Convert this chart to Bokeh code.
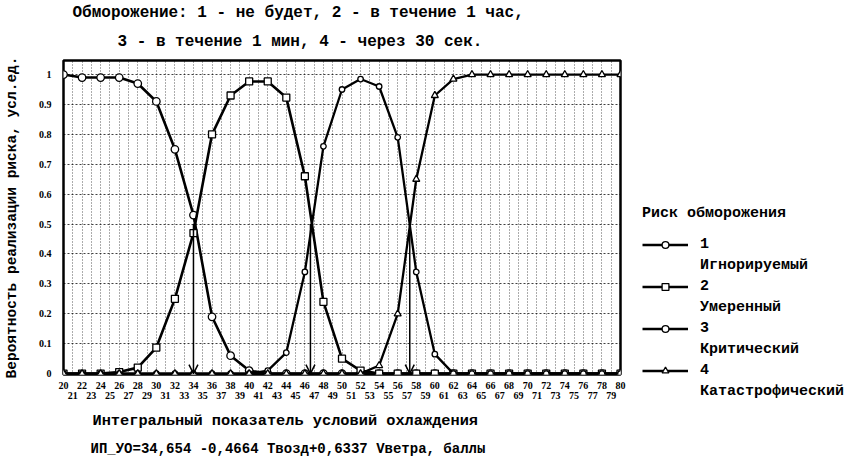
from bokeh.plotting import figure
from bokeh.models import (Range1d, FixedTicker, LinearAxis, Grid, Title, Legend, LegendItem,
                          Arrow, OpenHead, ColumnDataSource, CustomJSTickFormatter)
from bokeh.embed import file_html
from bokeh.resources import INLINE

# ---------------- texts ----------------
title_lines = ["Обморожение: 1 - не будет, 2 - в течение 1 час,",
               "3 - в течение 1 мин, 4 - через 30 сек."]
y_axis_title = "Вероятность реализации риска, усл.ед."
x_axis_title = "Интегральный показатель условий охлаждения"
formula_text = "ИП_УО=34,654 -0,4664 Твозд+0,6337 Vветра, баллы"
legend_title = "Риск обморожения"
series_numbers = ["1", "2", "3", "4"]
series_names = ["Игнорируемый", "Умеренный", "Критический", "Катастрофический"]

# ---------------- data ----------------
x_index = [20, 22, 24, 26, 28, 30, 32, 34, 36, 38, 40, 42, 44, 46, 48, 50,
           52, 54, 56, 58, 60, 62, 64, 66, 68, 70, 72, 74, 76, 78, 80]
risk_1 = [1.0, 0.99, 0.99, 0.99, 0.97, 0.91, 0.75, 0.53, 0.19, 0.06, 0.01, 0.0,
          0.0, 0.0, 0.0, 0.0, 0.0, 0.0, 0.0, 0.0, 0.0, 0.0, 0.0, 0.0, 0.0, 0.0,
          0.0, 0.0, 0.0, 0.0, 0.0]
risk_2 = [0.0, 0.0, 0.0, 0.005, 0.02, 0.087, 0.25, 0.47, 0.80, 0.93, 0.977, 0.977,
          0.923, 0.66, 0.24, 0.05, 0.01, 0.0, 0.0, 0.0, 0.0, 0.0, 0.0, 0.0, 0.0,
          0.0, 0.0, 0.0, 0.0, 0.0, 0.0]
risk_3 = [0.0, 0.0, 0.0, 0.0, 0.0, 0.0, 0.0, 0.0, 0.0, 0.0, 0.0, 0.01, 0.07,
          0.34, 0.76, 0.95, 0.985, 0.96, 0.79, 0.34, 0.065, 0.0, 0.0, 0.0, 0.0,
          0.0, 0.0, 0.0, 0.0, 0.0, 0.0]
risk_4 = [0.0, 0.0, 0.0, 0.0, 0.0, 0.0, 0.0, 0.0, 0.0, 0.0, 0.0, 0.0, 0.0, 0.0,
          0.0, 0.0, 0.0, 0.027, 0.20, 0.65, 0.93, 0.985, 1.0, 1.0, 1.0, 1.0, 1.0,
          1.0, 1.0, 1.0, 1.0]

y_ticks = [0.0, 0.1, 0.2, 0.3, 0.4, 0.5, 0.6, 0.7, 0.8, 0.9, 1.0]
x_ticks_even = [20, 22, 24, 26, 28, 30, 32, 34, 36, 38, 40, 42, 44, 46, 48, 50,
                52, 54, 56, 58, 60, 62, 64, 66, 68, 70, 72, 74, 76, 78, 80]
x_ticks_odd = [21, 23, 25, 27, 29, 31, 33, 35, 37, 39, 41, 43, 45, 47, 49, 51,
               53, 55, 57, 59, 61, 63, 65, 67, 69, 71, 73, 75, 77, 79]

arrow_x = [34.0, 46.6, 57.3]
arrow_top = [0.5, 0.5, 0.5]
arrow_bottom = [0.0, 0.0, 0.0]

MONO = "Liberation Mono"
SERIF = "Liberation Serif"

p = figure(frame_width=557, frame_height=314,
           x_range=Range1d(20, 80), y_range=Range1d(-0.003, 1.047),
           x_axis_type=None, y_axis_type=None,
           output_backend="svg", toolbar_location=None,
           min_border_left=61, min_border_right=234, min_border_top=60, min_border_bottom=78,
           background_fill_color="white", border_fill_color="white")
p.outline_line_color = "black"
p.outline_line_width = 2.5
p.outline_line_alpha = 1.0

# grids
vgrid = Grid(dimension=0, ticker=FixedTicker(ticks=list(range(20, 81))),
             grid_line_color="black", grid_line_alpha=0.65, grid_line_dash="1 2", grid_line_width=1)
hgrid = Grid(dimension=1, ticker=FixedTicker(ticks=y_ticks),
             grid_line_color="black", grid_line_alpha=0.75, grid_line_dash="2 2", grid_line_width=1)
p.renderers.extend([vgrid, hgrid])

# axes
yaxis = LinearAxis(ticker=FixedTicker(ticks=y_ticks),
                   formatter=CustomJSTickFormatter(code="return tick.toFixed(1).replace(/\\.0$/, '');"),
                   axis_label=y_axis_title,
                   axis_line_color=None, major_tick_line_color=None, minor_tick_line_color=None,
                   major_tick_out=0, major_tick_in=0, minor_tick_out=0, minor_tick_in=0,
                   major_label_standoff=12,
                   major_label_text_font=SERIF, major_label_text_font_size="10px",
                   major_label_text_font_style="bold", major_label_text_color="black",
                   axis_label_text_font=MONO, axis_label_text_font_size="14.5px",
                   axis_label_text_font_style="bold", axis_label_text_color="black",
                   axis_label_standoff=16)
p.add_layout(yaxis, "left")

def make_xaxis(ticks, standoff):
    return LinearAxis(ticker=FixedTicker(ticks=ticks),
                      axis_line_color=None, major_tick_line_color=None, minor_tick_line_color=None,
                      major_tick_out=0, major_tick_in=0, minor_tick_out=0, minor_tick_in=0,
                      major_label_standoff=standoff,
                      major_label_text_font=SERIF, major_label_text_font_size="10px",
                      major_label_text_font_style="bold", major_label_text_color="black")

p.add_layout(make_xaxis(x_ticks_even, 7), "below")
p.add_layout(make_xaxis(x_ticks_odd, 0), "below")

# bottom texts
p.add_layout(Title(text=x_axis_title, align="left", offset=29, text_font=MONO,
                   text_font_size="15.3px", text_font_style="bold", text_color="black",
                   standoff=17), "below")
p.add_layout(Title(text=formula_text, align="left", offset=27, text_font=MONO,
                   text_font_size="14px", text_font_style="bold", text_color="black",
                   standoff=0), "below")

# top texts (first added = nearest to the frame)
p.add_layout(Title(text=title_lines[1], align="left", offset=54, text_font=MONO,
                   text_font_size="16px", text_font_style="bold", text_color="black",
                   standoff=19), "above")
p.add_layout(Title(text=title_lines[0], align="left", offset=9, text_font=MONO,
                   text_font_size="16px", text_font_style="bold", text_color="black",
                   standoff=0), "above")

# series
src = ColumnDataSource(dict(x=x_index, r1=risk_1, r2=risk_2, r3=risk_3, r4=risk_4))
styles = [("r1", "circle", 7.5, 2.6), ("r2", "square", 7, 2.6),
          ("r3", "circle", 5.5, 2.3), ("r4", "triangle", 7, 2.3)]
items = []
for (col, marker, size, lw), num, name in zip(styles, series_numbers, series_names):
    ln = p.line("x", col, source=src, line_color="black", line_width=lw)
    sc = p.scatter("x", col, source=src, marker=marker, size=size,
                   fill_color="white", line_color="black", line_width=1.3)
    dummy = p.line(x=[], y=[], line_alpha=0)
    items.append(LegendItem(label=num, renderers=[ln, sc]))
    items.append(LegendItem(label=name, renderers=[dummy]))

# arrows
arrow_src = ColumnDataSource(dict(x=arrow_x, y0=arrow_top, y1=arrow_bottom))
p.add_layout(Arrow(end=OpenHead(size=9, line_width=1.5, line_color="black"),
                   x_start="x", y_start="y0", x_end="x", y_end="y1",
                   source=arrow_src, line_width=1.5, line_color="black"))

legend = Legend(items=items, title=legend_title, location=(22, -26),
                border_line_color=None, background_fill_alpha=0,
                padding=0, margin=0, spacing=4,
                glyph_width=46, glyph_height=17, label_height=17, label_standoff=12,
                label_text_font=MONO, label_text_font_size="15px", label_text_font_style="bold",
                label_text_color="black",
                title_text_font=MONO, title_text_font_size="15px", title_text_font_style="bold",
                title_text_color="black", title_standoff=14)
p.add_layout(legend, "right")

open("out.html", "w").write(file_html(p, INLINE))
